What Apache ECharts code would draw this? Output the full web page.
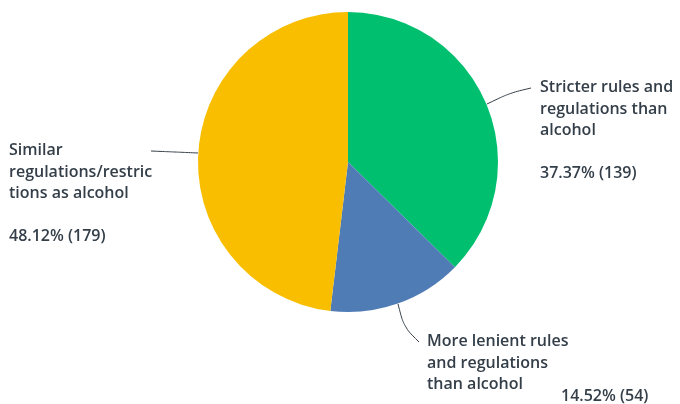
<!DOCTYPE html>
<html>
<head>
<meta charset="utf-8">
<script src="https://cdn.jsdelivr.net/npm/echarts@6/dist/echarts.min.js"></script>
<style>html,body{margin:0;padding:0;background:#fff}#c{width:680px;height:404px}</style>
</head>
<body>
<div id="c"></div>
<script>
const categories = [
  "Stricter rules and\nregulations than\nalcohol",
  "More lenient rules\nand regulations\nthan alcohol",
  "Similar\nregulations/restric\ntions as alcohol"
];
const percents = [37.37, 14.52, 48.12];
const counts = [139, 54, 179];
const colors = ['#00BF6F', '#507CB6', '#F9BE00'];

const font = { fontFamily: 'Open Sans', fontWeight: 600, fontSize: 16, color: '#333E48', lineHeight: 21.5, overflow: 'none' };

// label placements (layout only)
const labelPos = [
  { x: 540, y: 77, line: [[487, 104], [510, 93], [531, 88]] },
  { x: 427, y: 331, line: [[398, 304], [404, 327], [419, 342]] },
  { x: 9, y: 140, line: [[198, 153], [175, 152], [151, 151]] }
];
const pctPosBlue = { x: 561, y: 386 };

const chart = echarts.init(document.getElementById('c'), null, { renderer: 'canvas' });
const fmtPct = i => percents[i].toFixed(2) + '% (' + counts[i] + ')';

chart.setOption({
  animation: false,
  series: [
    {
      type: 'pie',
      center: [348, 162],
      radius: [0, 150],
      startAngle: 90,
      clockwise: true,
      silent: true,
      data: categories.map((n, i) => ({ name: n, value: counts[i], itemStyle: { color: colors[i] } })),
      label: Object.assign({
        show: true,
        position: 'outside',
        formatter: p => p.dataIndex === 1 ? p.name : p.name + '\n\n' + fmtPct(p.dataIndex)
      }, font),
      labelLine: { show: true, smooth: 0.3, lineStyle: { color: '#333E48', width: 1 } },
      labelLayout: p => {
        const L = labelPos[p.dataIndex];
        return { x: L.x, y: L.y, align: 'left', verticalAlign: 'top', labelLinePoints: L.line };
      }
    },
    {
      type: 'pie',
      center: [348, 162],
      radius: [0, 150],
      startAngle: 90,
      clockwise: true,
      silent: true,
      z: 1,
      data: categories.map((n, i) => ({ name: n, value: counts[i], itemStyle: { color: 'rgba(0,0,0,0)' }, label: { show: i === 1 } })),
      label: Object.assign({ show: true, position: 'outside', formatter: p => fmtPct(p.dataIndex) }, font),
      labelLine: { show: false },
      labelLayout: p => ({ x: pctPosBlue.x, y: pctPosBlue.y, align: 'left', verticalAlign: 'top' })
    }
  ]
});
</script>
</body>
</html>
